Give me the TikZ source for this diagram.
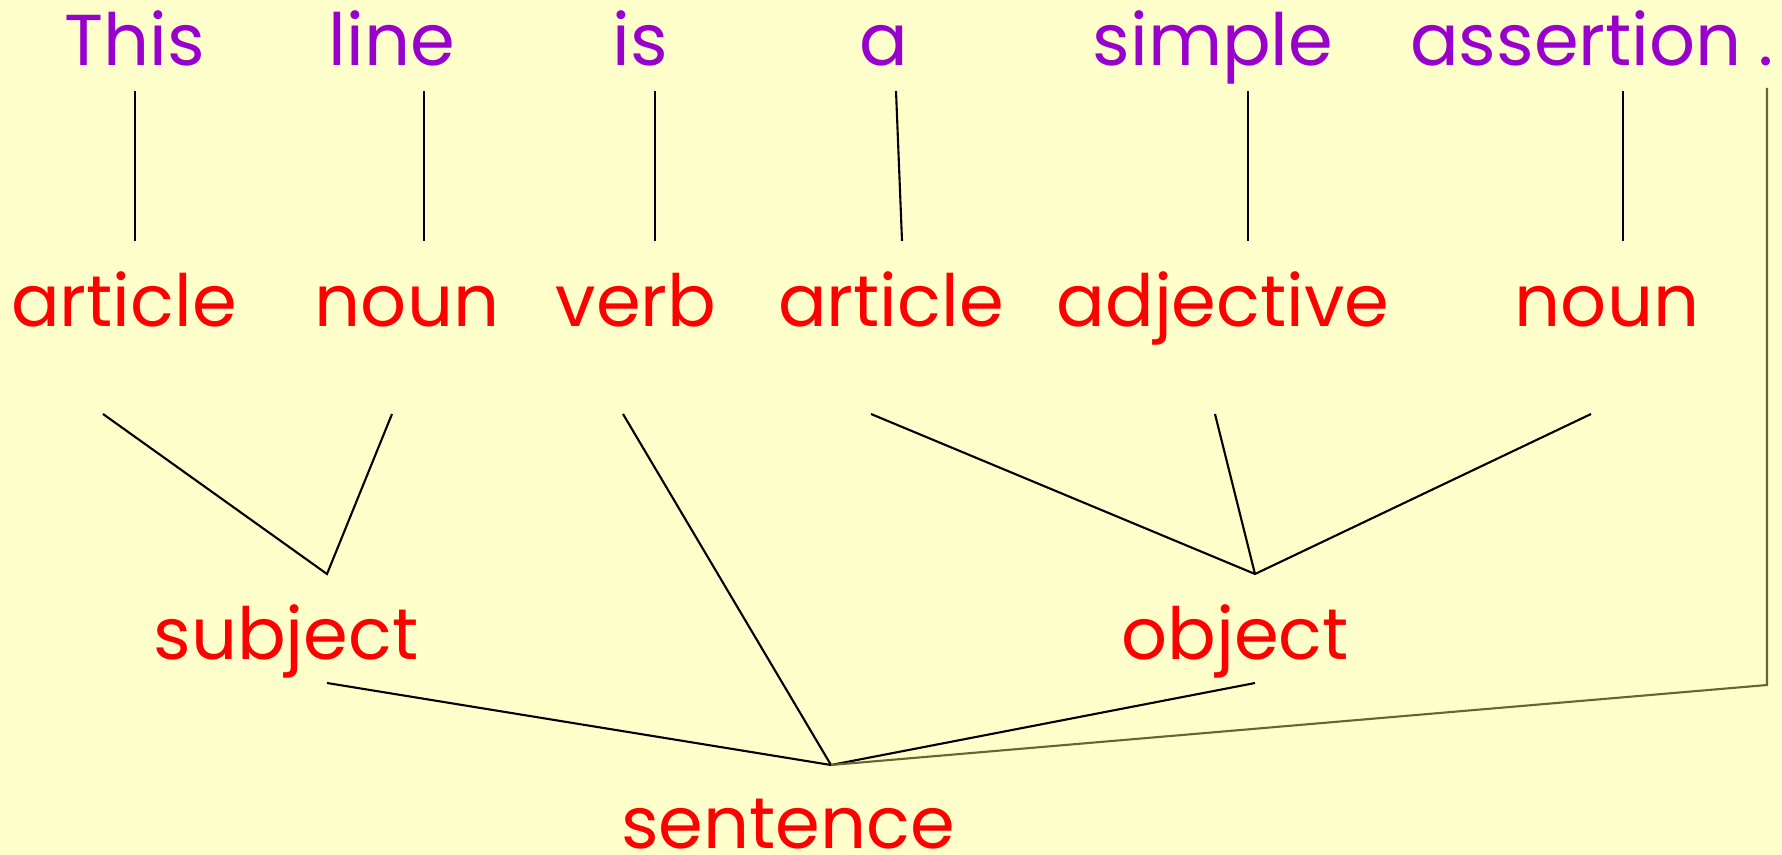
\documentclass[tikz,border=0pt]{standalone}
\usepackage{fontspec}
\setmainfont{Poppins}
\definecolor{paper}{HTML}{FFFFCC}
\definecolor{wordcol}{HTML}{9900CC}
\definecolor{partcol}{HTML}{FF0000}
\definecolor{stopcol}{HTML}{666633}

\begin{document}
\begin{tikzpicture}[
  word/.style={text=wordcol,anchor=base,inner sep=0pt,font=\fontsize{20.5}{24}\selectfont},
  part/.style={text=partcol,anchor=base,inner sep=0pt,font=\fontsize{20.5}{24}\selectfont},
  link/.style={line width=0.6pt}]
\fill[paper] (0,0) rectangle (17.82,-8.55);
\useasboundingbox (0,0) rectangle (17.82,-8.55);

% the sentence
\node[word] (this) at (1.35,-0.66) {This};
\node[word] (line) at (3.92,-0.66) {line};
\node[word] (is) at (6.40,-0.66) {is};
\node[word] (a) at (8.84,-0.66) {a};
\node[word] (simple) at (12.13,-0.66) {simple};
\node[word] (assertion) at (15.76,-0.66) {assertion};
\node[word] (stop) at (17.66,-0.66) {.};

% parts of speech
\node[part] (art1) at (1.24,-3.27) {article};
\node[part] (noun1) at (4.07,-3.27) {noun};
\node[part] (verb) at (6.36,-3.27) {verb};
\node[part] (art2) at (8.91,-3.27) {article};
\node[part] (adj) at (12.23,-3.27) {adjective};
\node[part] (noun2) at (16.07,-3.27) {noun};
\node[part] (subj) at (2.86,-6.59) {subject};
\node[part] (obj) at (12.35,-6.59) {object};
\node[part] (sent) at (7.88,-8.48) {sentence};

% line ends
\coordinate (thisT) at (1.35,-0.91);  \coordinate (thisB) at (1.35,-2.41);
\coordinate (lineT) at (4.24,-0.91);  \coordinate (lineB) at (4.24,-2.41);
\coordinate (isT) at (6.55,-0.91);    \coordinate (isB) at (6.55,-2.41);
\coordinate (aT) at (8.96,-0.91);     \coordinate (aB) at (9.02,-2.41);
\coordinate (simpleT) at (12.48,-0.91); \coordinate (simpleB) at (12.48,-2.41);
\coordinate (assT) at (16.23,-0.91);  \coordinate (assB) at (16.23,-2.41);
\coordinate (stopT) at (17.67,-0.88); \coordinate (stopB) at (17.67,-6.85);

\coordinate (art1T) at (1.03,-4.14);
\coordinate (noun1T) at (3.92,-4.14);
\coordinate (verbT) at (6.23,-4.14);
\coordinate (art2T) at (8.71,-4.14);
\coordinate (adjT) at (12.15,-4.14);
\coordinate (noun2T) at (15.91,-4.14);
\coordinate (subjJ) at (3.27,-5.74);
\coordinate (objJ) at (12.55,-5.74);
\coordinate (subjT) at (3.27,-6.83);
\coordinate (objT) at (12.55,-6.83);
\coordinate (sentJ) at (8.31,-7.65);

% words to parts
\draw[link] (thisT) -- (thisB);
\draw[link] (lineT) -- (lineB);
\draw[link] (isT) -- (isB);
\draw[link] (aT) -- (aB);
\draw[link] (simpleT) -- (simpleB);
\draw[link] (assT) -- (assB);

% parts to phrases
\draw[link] (art1T) -- (subjJ) -- (noun1T);
\draw[link] (art2T) -- (objJ) -- (noun2T);
\draw[link] (adjT) -- (objJ);

% phrases to sentence
\draw[link] (verbT) -- (sentJ);
\draw[link] (subjT) -- (sentJ) -- (objT);
\draw[link,stopcol] (stopT) -- (stopB) -- (sentJ);
\end{tikzpicture}
\end{document}
